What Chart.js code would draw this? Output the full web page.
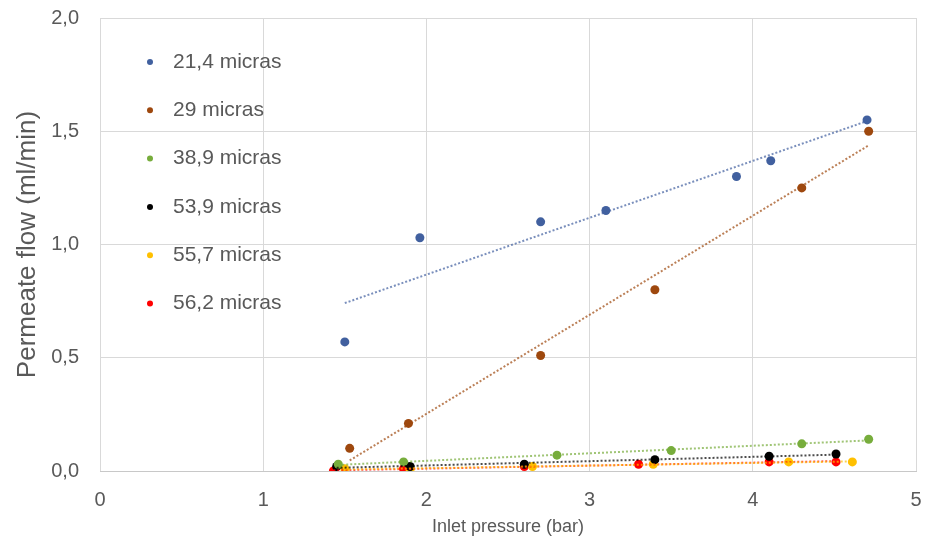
<!DOCTYPE html>
<html>
<head>
<meta charset="utf-8">
<script src="https://cdn.jsdelivr.net/npm/chart.js@4"></script>
<style>
html, body { margin: 0; padding: 0; background: #fff; }
</style>
</head>
<body>
<canvas id="chart" width="925" height="541"></canvas>
<script>
// Series names and colours
const seriesLabels = ['21,4 micras', '29 micras', '38,9 micras', '53,9 micras', '55,7 micras', '56,2 micras'];
const seriesColors = ['#41609f', '#9e480e', '#77ad3c', '#000000', '#ffc000', '#ff0000'];

// Inlet pressure (bar) / permeate flow (ml/min)
const pressure214 = [1.50, 1.96, 2.70, 3.10, 3.90, 4.11, 4.70];
const flow214     = [0.57, 1.03, 1.10, 1.15, 1.30, 1.37, 1.55];

const pressure29 = [1.53, 1.89, 2.70, 3.40, 4.30, 4.71];
const flow29     = [0.10, 0.21, 0.51, 0.80, 1.25, 1.50];

const pressure389 = [1.46, 1.86, 2.80, 3.50, 4.30, 4.71];
const flow389     = [0.03, 0.04, 0.07, 0.09, 0.12, 0.14];

const pressure539 = [1.45, 1.90, 2.60, 3.40, 4.10, 4.51];
const flow539     = [0.02, 0.02, 0.03, 0.05, 0.065, 0.075];

const pressure557 = [1.50, 1.90, 2.65, 3.39, 4.22, 4.61];
const flow557     = [0.01, 0.007, 0.02, 0.03, 0.04, 0.04];

const pressure562 = [1.43, 1.86, 2.60, 3.30, 4.10, 4.51];
const flow562     = [0.00, 0.01, 0.02, 0.03, 0.04, 0.04];

// Axis ticks
const xTicks = [0, 1, 2, 3, 4, 5];
const yTicks = [0, 0.5, 1.0, 1.5, 2.0];

const allPressures = [pressure214, pressure29, pressure389, pressure539, pressure557, pressure562];
const allFlows = [flow214, flow29, flow389, flow539, flow557, flow562];

// least squares line over the range of the series (like the Excel trendline)
function trendPoints(xs, ys) {
    const n = xs.length;
    const mx = xs.reduce((a, b) => a + b, 0) / n;
    const my = ys.reduce((a, b) => a + b, 0) / n;
    let sxy = 0, sxx = 0;
    xs.forEach((x, i) => {
        sxy += (x - mx) * (ys[i] - my);
        sxx += (x - mx) * (x - mx);
    });
    const slope = sxy / sxx;
    const x0 = Math.min(...xs), x1 = Math.max(...xs);
    return [
        {x: x0, y: my + slope * (x0 - mx)},
        {x: x1, y: my + slope * (x1 - mx)}
    ];
}

function withAlpha(hex, a) {
    const r = parseInt(hex.slice(1, 3), 16);
    const g = parseInt(hex.slice(3, 5), 16);
    const b = parseInt(hex.slice(5, 7), 16);
    return 'rgba(' + r + ',' + g + ',' + b + ',' + a + ')';
}

const datasets = [];
seriesLabels.forEach((label, i) => {
    datasets.push({
        type: 'line',
        label: label + ' trend',
        isTrend: true,
        data: trendPoints(allPressures[i], allFlows[i]),
        borderColor: withAlpha(seriesColors[i], 0.7),
        borderWidth: 2,
        borderDash: [2, 2],
        pointRadius: 0,
        fill: false,
        order: 1
    });
});
seriesLabels.forEach((label, i) => {
    datasets.push({
        type: 'scatter',
        label: label,
        data: allPressures[i].map((x, k) => ({x: x, y: allFlows[i][k]})),
        backgroundColor: seriesColors[i],
        borderColor: seriesColors[i],
        borderWidth: 0,
        pointRadius: 4.5,
        order: 2
    });
});

const fontFamily = '"Liberation Sans", Arial, sans-serif';
const textColor = '#595959';

// legend drawn inside the plot, top left
const insideLegend = {
    id: 'insideLegend',
    afterDraw(chart) {
        const ctx = chart.ctx;
        const area = chart.chartArea;
        ctx.save();
        ctx.font = '21px ' + fontFamily;
        ctx.textBaseline = 'middle';
        ctx.fillStyle = textColor;
        let row = 0;
        chart.data.datasets.forEach(ds => {
            if (ds.isTrend) return;
            const y = area.top + 44 + row * 48.3;
            ctx.beginPath();
            ctx.arc(area.left + 50, y, 3, 0, Math.PI * 2);
            ctx.fillStyle = ds.backgroundColor;
            ctx.fill();
            ctx.fillStyle = textColor;
            ctx.fillText(ds.label, area.left + 73, y);
            row++;
        });
        ctx.restore();
    }
};

new Chart(document.getElementById('chart').getContext('2d'), {
    type: 'scatter',
    data: { datasets: datasets },
    options: {
        responsive: false,
        animation: false,
        layout: { padding: { top: 18, right: 9, left: 0, bottom: 0 } },
        plugins: {
            legend: { display: false },
            tooltip: { enabled: false }
        },
        scales: {
            x: {
                type: 'linear',
                min: 0,
                max: 5,
                afterFit: scale => {
                    scale.height = 70;
                    scale.paddingLeft = 0;
                    scale.paddingRight = 0;
                },
                afterBuildTicks: scale => { scale.ticks = xTicks.map(v => ({value: v})); },
                grid: { color: '#d9d9d9', drawTicks: false },
                border: { color: '#c8c8c8' },
                ticks: {
                    padding: 17,
                    color: textColor,
                    font: { family: fontFamily, size: 20 }
                },
                title: {
                    display: true,
                    text: 'Inlet pressure (bar)',
                    color: textColor,
                    font: { family: fontFamily, size: 18 },
                    padding: { top: 0, bottom: 3 }
                }
            },
            y: {
                type: 'linear',
                min: 0,
                max: 2,
                afterFit: scale => {
                    scale.width = 100;
                    scale.paddingTop = 0;
                    scale.paddingBottom = 0;
                },
                afterBuildTicks: scale => { scale.ticks = yTicks.map(v => ({value: v})); },
                grid: { color: '#d9d9d9', drawTicks: false },
                border: { display: false },
                ticks: {
                    padding: 21,
                    color: textColor,
                    font: { family: fontFamily, size: 20 },
                    callback: v => v.toFixed(1).replace('.', ',')
                },
                title: {
                    display: true,
                    text: 'Permeate flow (ml/min)',
                    color: textColor,
                    font: { family: fontFamily, size: 26 },
                    padding: { top: 12, bottom: 0 }
                }
            }
        }
    },
    plugins: [insideLegend]
});
</script>
</body>
</html>
